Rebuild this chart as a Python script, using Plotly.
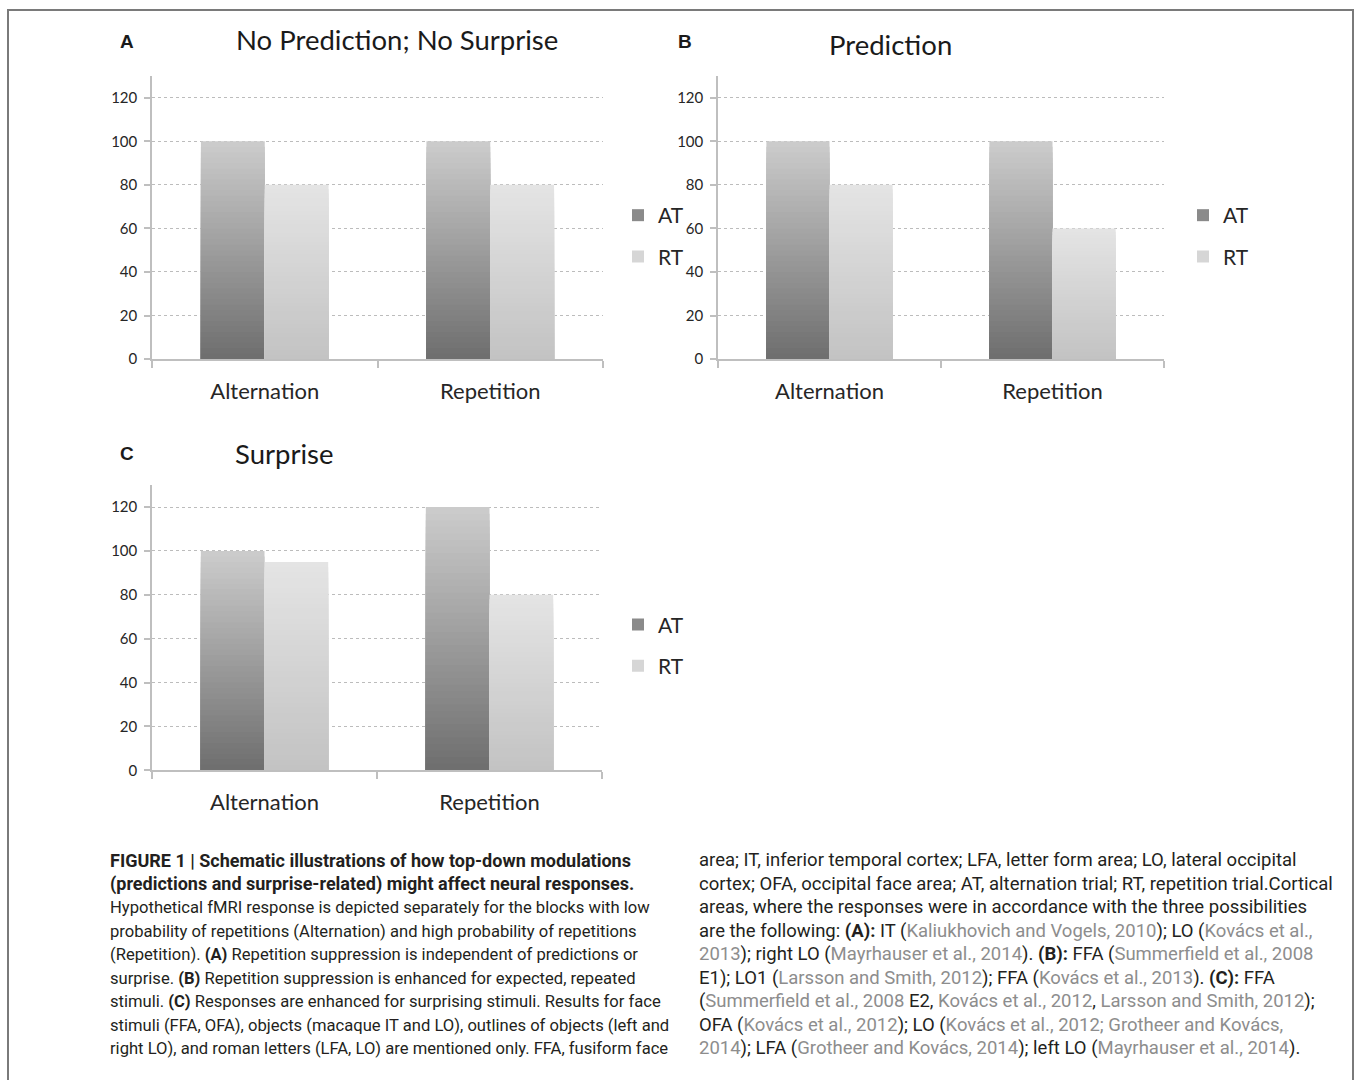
import plotly.graph_objects as go

# ---------------- data ----------------
categories = ["Alternation", "Repetition"]
series_names = ["AT", "RT"]

panel_a_at = [100, 100]
panel_a_rt = [80, 80]
panel_b_at = [100, 100]
panel_b_rt = [80, 60]
panel_c_at = [100, 120]
panel_c_rt = [95, 80]

y_ticks = [0, 20, 40, 60, 80, 100, 120]

panel_titles = ["No Prediction; No Surprise", "Prediction", "Surprise"]
panel_letters = ["A", "B", "C"]

# ---------------- geometry helpers ----------------
W, H = 1355, 1080


def px(x):
    return x / W


def py(y):
    # small empirical correction so rendered rows land on the reference rows
    y = y + (y - 10) * 0.008
    return 1 - y / H


def lerp_hex(c1, c2, t):
    a = [int(c1[i:i + 2], 16) for i in (1, 3, 5)]
    b = [int(c2[i:i + 2], 16) for i in (1, 3, 5)]
    c = [round(a[i] + (b[i] - a[i]) * t) for i in range(3)]
    return "#%02x%02x%02x" % tuple(c)


# gradient colours (top -> bottom) for each series
grad = {
    "AT": ("#cbcbcb", "#6f6f6f"),
    "RT": ("#e4e4e4", "#c3c3c3"),
}
legend_col = {"AT": "#8a8a8a", "RT": "#d6d6d6"}
N_LAYERS = 40

fig = go.Figure()

panels = [
    (panel_a_at, panel_a_rt, "x", "y", "legend"),
    (panel_b_at, panel_b_rt, "x2", "y2", "legend2"),
    (panel_c_at, panel_c_rt, "x3", "y3", "legend3"),
]

for at_vals, rt_vals, xa, ya, lg in panels:
    for name, vals in (("AT", at_vals), ("RT", rt_vals)):
        top, bot = grad[name]
        # in-place layers imitating the vertical gradient fill of each bar
        for k in range(N_LAYERS):
            frac = 1 - k / N_LAYERS
            fig.add_trace(go.Bar(
                x=categories,
                y=[v * frac for v in vals],
                xaxis=xa, yaxis=ya,
                offsetgroup=name,
                marker=dict(color=lerp_hex(top, bot, k / (N_LAYERS - 1)),
                            line=dict(width=0)),
                showlegend=False,
                hoverinfo="skip" if k else "x+y+name",
                name=name,
            ))
        # legend entry
        fig.add_trace(go.Bar(
            x=[None], y=[None], xaxis=xa, yaxis=ya,
            name=name, legend=lg, legendgroup=name,
            offsetgroup=name,
            marker=dict(color=legend_col[name], line=dict(width=0)),
            showlegend=True, hoverinfo="skip",
        ))

# ---------------- axes ----------------
axis_col = "#bfbfbf"
plot_font = "Lato, 'Open Sans', sans-serif"

# pixel boxes of the three plot areas: (left, right, top, bottom)
boxes = [
    (152, 603, 76, 359),
    (718, 1164, 76, 359),
    (152, 602, 485, 770),
]

layout_axes = {}
for i, (l, r, t, b) in enumerate(boxes):
    sfx = "" if i == 0 else str(i + 1)
    layout_axes["xaxis" + sfx] = dict(
        domain=[px(l), px(r)],
        anchor="y" + sfx,
        type="category",
        showline=True, linecolor=axis_col, linewidth=1.5,
        ticks="outside", tickson="boundaries", ticklen=7,
        tickcolor=axis_col, tickwidth=1.5,
        showgrid=False,
        tickfont=dict(family=plot_font, size=22, color="#262626"),
        ticklabelstandoff=12,
        fixedrange=True,
    )
    layout_axes["yaxis" + sfx] = dict(
        domain=[py(b), py(t)],
        anchor="x" + sfx,
        range=[0, 130],
        tickvals=y_ticks,
        showline=True, linecolor=axis_col, linewidth=1.5,
        ticks="outside", ticklen=6, tickcolor=axis_col, tickwidth=1.5,
        showgrid=True, gridcolor="#bcbcbc", griddash="dot", gridwidth=1,
        zeroline=False,
        tickfont=dict(family=plot_font, size=15, color="#262626"),
        ticklabelstandoff=4,
        fixedrange=True,
    )

# legends
leg_common = dict(
    font=dict(family=plot_font, size=21, color="#262626"),
    bgcolor="rgba(0,0,0,0)",
    traceorder="grouped", tracegroupgap=11,
    xanchor="left", yanchor="top",
    itemclick=False, itemdoubleclick=False,
)
legend_pos = [(618, 195), (1183, 195), (618, 604)]

# ---------------- annotations ----------------
ann = []
title_pos = [(397, 40), (890, 45), (284, 453)]
letter_pos = [(127, 42), (685, 42), (127, 453)]
for i in range(3):
    ann.append(dict(text=panel_titles[i], x=px(title_pos[i][0]), y=py(title_pos[i][1]),
                    xref="paper", yref="paper", xanchor="center", yanchor="middle",
                    showarrow=False,
                    font=dict(family=plot_font, size=27.5, color="#1a1a1a")))
    ann.append(dict(text="<b>%s</b>" % panel_letters[i], x=px(letter_pos[i][0]),
                    y=py(letter_pos[i][1]),
                    xref="paper", yref="paper", xanchor="center", yanchor="middle",
                    showarrow=False,
                    font=dict(family="Liberation Sans, Arial, sans-serif", size=19,
                              color="#1a1a1a")))

G = "#8d8d8d"


def g(s):
    return '<span style="color:%s">%s</span>' % (G, s)


left_lines = [
    "<b>FIGURE 1 | Schematic illustrations of how top-down modulations</b>",
    "<b>(predictions and surprise-related) might affect neural responses.</b>",
    "Hypothetical fMRI response is depicted separately for the blocks with low",
    "probability of repetitions (Alternation) and high probability of repetitions",
    "(Repetition). <b>(A)</b> Repetition suppression is independent of predictions or",
    "surprise. <b>(B)</b> Repetition suppression is enhanced for expected, repeated",
    "stimuli. <b>(C)</b> Responses are enhanced for surprising stimuli. Results for face",
    "stimuli (FFA, OFA), objects (macaque IT and LO), outlines of objects (left and",
    "right LO), and roman letters (LFA, LO) are mentioned only. FFA, fusiform face",
]
left_sizes = [18.0, 18.0, 16.6, 16.6, 16.6, 16.6, 16.6, 16.6, 16.6]
right_lines = [
    "area; IT, inferior temporal cortex; LFA, letter form area; LO, lateral occipital",
    "cortex; OFA, occipital face area; AT, alternation trial; RT, repetition trial.Cortical",
    "areas, where the responses were in accordance with the three possibilities",
    "are the following: <b>(A):</b> IT (" + g("Kaliukhovich and Vogels, 2010") + "); LO ("
    + g("Kovács et al.,"),
    g("2013") + "); right LO (" + g("Mayrhauser et al., 2014") + "). <b>(B):</b> FFA ("
    + g("Summerfield et al., 2008"),
    "E1); LO1 (" + g("Larsson and Smith, 2012") + "); FFA (" + g("Kovács et al., 2013")
    + "). <b>(C):</b> FFA",
    "(" + g("Summerfield et al., 2008") + " E2, " + g("Kovács et al., 2012") + ", "
    + g("Larsson and Smith, 2012") + ");",
    "OFA (" + g("Kovács et al., 2012") + "); LO (" + g("Kovács et al., 2012; Grotheer and Kovács,"),
    g("2014") + "); LFA (" + g("Grotheer and Kovács, 2014") + "); left LO ("
    + g("Mayrhauser et al., 2014") + ").",
]
right_size = 18.5
line_y = [860, 884, 907, 931, 954, 978, 1001, 1025, 1048]
cap_family = "Roboto, 'Liberation Sans', sans-serif"
for txt, yy, sz in zip(left_lines, line_y, left_sizes):
    ann.append(dict(text=txt, x=px(108), y=py(yy), xref="paper", yref="paper",
                    xanchor="left", yanchor="middle", align="left", showarrow=False,
                    font=dict(family=cap_family, size=sz, color="#231f20")))
for txt, yy in zip(right_lines, line_y):
    ann.append(dict(text=txt, x=px(697), y=py(yy), xref="paper", yref="paper",
                    xanchor="left", yanchor="middle", align="left", showarrow=False,
                    font=dict(family=cap_family, size=right_size, color="#231f20")))

# figure border
shapes = [dict(type="rect", xref="paper", yref="paper",
               x0=px(8), x1=px(1353), y0=-0.05, y1=1 - 10 / H,
               line=dict(color="#7a7a7a", width=2), fillcolor="rgba(0,0,0,0)")]

lay = dict(
    width=W, height=H,
    margin=dict(l=0, r=0, t=0, b=0),
    paper_bgcolor="white", plot_bgcolor="white",
    barmode="group", bargap=0.434, bargroupgap=0,
    annotations=ann, shapes=shapes,
    font=dict(family=plot_font),
)
lay.update(layout_axes)
for i, key in enumerate(["legend", "legend2", "legend3"]):
    d = dict(leg_common)
    d.update(x=px(legend_pos[i][0]), y=py(legend_pos[i][1]))
    lay[key] = d

fig.update_layout(**lay)
fig.write_html(
    "out.html",
    config={"displayModeBar": False},
    post_script="document.body.style.margin='0';document.body.style.overflow='hidden';",
)
